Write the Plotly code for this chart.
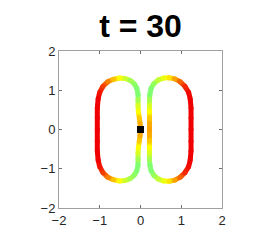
import plotly.graph_objects as go
from plotly.colors import sample_colorscale

TITLE = "t = 30"
TICKS = [-2, -1, 0, 1, 2]

# Left lobe (clockwise from the centre)
left_x = [0.00, -0.01, -0.03, -0.05, -0.06, -0.06, -0.06, -0.09, -0.15, -0.25, -0.38, -0.52, -0.66, -0.80,
          -0.92, -1.00, -1.04, -1.06, -1.06, -1.06, -1.06, -1.06, -1.04, -1.00, -0.92, -0.80, -0.66, -0.52,
          -0.38, -0.25, -0.15, -0.09, -0.06, -0.06, -0.06, -0.05, -0.03, -0.01, 0.00]
left_y = [0.00, 0.15, 0.30, 0.45, 0.60, 0.75, 0.90, 1.05, 1.16, 1.25, 1.30, 1.31, 1.28, 1.22,
          1.10, 0.95, 0.78, 0.55, 0.30, 0.00, -0.30, -0.55, -0.78, -0.95, -1.10, -1.22, -1.28, -1.31,
          -1.30, -1.25, -1.16, -1.05, -0.90, -0.75, -0.60, -0.45, -0.30, -0.15, 0.00]
left_v = [0.32, 0.34, 0.40, 0.50, 0.65, 0.85, 1.00, 1.00, 0.95, 0.85, 0.70, 0.50, 0.38, 0.25,
          0.12, 0.04, 0.00, 0.00, 0.00, 0.00, 0.00, 0.00, 0.00, 0.04, 0.12, 0.25, 0.38, 0.50,
          0.70, 0.85, 0.95, 1.00, 1.00, 0.85, 0.65, 0.50, 0.40, 0.34, 0.32]

# Right lobe (anticlockwise from the centre)
right_x = [0.22, 0.22, 0.22, 0.22, 0.22, 0.22, 0.23, 0.26, 0.33, 0.43, 0.56, 0.70, 0.84, 0.97,
           1.09, 1.18, 1.22, 1.24, 1.24, 1.24, 1.24, 1.24, 1.22, 1.18, 1.09, 0.97, 0.84, 0.70,
           0.56, 0.43, 0.33, 0.26, 0.23, 0.22, 0.22, 0.22, 0.22, 0.22, 0.22]
right_y = [0.00, 0.15, 0.30, 0.45, 0.60, 0.75, 0.90, 1.05, 1.17, 1.26, 1.31, 1.32, 1.29, 1.22,
           1.10, 0.95, 0.78, 0.55, 0.30, 0.00, -0.30, -0.55, -0.78, -0.95, -1.10, -1.22, -1.29, -1.32,
           -1.31, -1.26, -1.17, -1.05, -0.90, -0.75, -0.60, -0.45, -0.30, -0.15, 0.00]
right_v = [0.32, 0.34, 0.40, 0.50, 0.65, 0.85, 1.00, 1.00, 0.90, 0.75, 0.58, 0.45, 0.32, 0.20,
           0.08, 0.02, 0.00, 0.00, 0.00, 0.00, 0.00, 0.00, 0.00, 0.02, 0.08, 0.20, 0.32, 0.45,
           0.58, 0.75, 0.90, 1.00, 1.00, 0.85, 0.65, 0.50, 0.40, 0.34, 0.32]

centre_x = [0.0]
centre_y = [0.0]

COLORSCALE = [[0.0, '#f00000'], [0.5, '#ffff00'], [1.0, '#80ff70']]

fig = go.Figure()


def add_curve(xs, ys, vs):
    for i in range(len(xs) - 1):
        c = sample_colorscale(COLORSCALE, [(vs[i] + vs[i + 1]) / 2])[0]
        fig.add_trace(go.Scatter(x=[xs[i], xs[i + 1]], y=[ys[i], ys[i + 1]], mode='lines',
                                 line=dict(color=c, width=5), hoverinfo='skip', showlegend=False))
    fig.add_trace(go.Scatter(x=xs, y=ys, mode='markers',
                             marker=dict(color=vs, colorscale=COLORSCALE, cmin=0, cmax=1,
                                         size=5, line=dict(width=0)),
                             hoverinfo='skip', showlegend=False))


add_curve(left_x, left_y, left_v)
add_curve(right_x, right_y, right_v)

fig.add_trace(go.Scatter(x=centre_x, y=centre_y, mode='markers',
                         marker=dict(symbol='square', size=7, color='black', line=dict(width=0)),
                         showlegend=False))

axis_style = dict(range=[-2, 2], tickvals=TICKS, showgrid=False, zeroline=False,
                  showline=True, linecolor='#a0a0a0', linewidth=1, mirror='allticks',
                  ticks='inside', ticklen=3, tickcolor='#707070',
                  tickfont=dict(family='Liberation Sans, Arial, sans-serif', size=13, color='#262626'))

fig.update_xaxes(**axis_style)
fig.update_yaxes(**axis_style)

W, H = 261, 232
fig.update_layout(
    width=W, height=H,
    margin=dict(l=51, r=47, t=43, b=27),
    paper_bgcolor='white', plot_bgcolor='white',
    title=dict(text='<b>' + TITLE + '</b>', x=132.5 / W, xanchor='center',
               y=1 - 18 / H, yanchor='middle', yref='container',
               font=dict(family='Liberation Sans, Arial, sans-serif', size=32, color='black')),
)

fig.write_html("out.html")
